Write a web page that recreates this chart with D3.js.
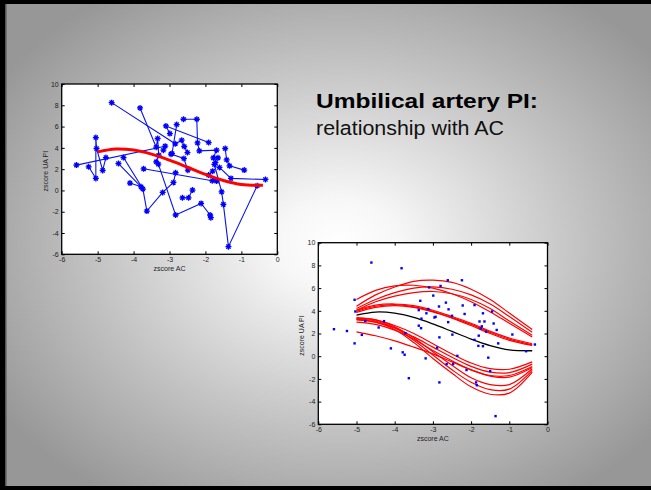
<!DOCTYPE html>
<html><head><meta charset="utf-8">
<script src="https://cdn.jsdelivr.net/npm/d3@7"></script>
<style>html,body{margin:0;padding:0;background:#999;}svg{display:block;}</style>
</head><body>
<svg id="c" width="651" height="490"></svg>
<script>
// ---------- data ----------
const xTickVals = [-6, -5, -4, -3, -2, -1, 0];
const yTickVals = [-6, -4, -2, 0, 2, 4, 6, 8, 10];
const titleText = "Umbilical artery PI:";
const subtitleText = "relationship with AC";
const xLabel = "zscore AC";
const yLabel = "zscore UA PI";

// longitudinal measurements per fetus: [zscore AC, zscore UA PI]
const subj01 = [[-5.59,2.38],[-3.12,4.16],[-3.17,3.78]];
const subj02 = [[-4.61,8.25],[-2.84,4.38],[-2.66,4.72],[-2.59,4.13],[-2.50,3.56]];
const subj03 = [[-3.82,7.75],[-3.37,4.06],[-3.33,4.88],[-3.30,3.31],[-3.37,2.69]];
const subj04 = [[-2.99,5.34],[-3.10,6.06],[-1.91,4.50]];
const subj05 = [[-2.61,6.69],[-2.24,6.69],[-2.22,4.47],[-2.17,3.72],[-1.69,3.78],[-1.78,3.06],[-1.65,3.06]];
const subj06 = [[-5.25,2.22],[-5.05,1.13],[-5.05,4.97],[-5.03,3.94],[-4.86,1.88],[-4.77,3.09]];
const subj07 = [[-4.42,2.53],[-3.79,0.34],[-4.10,0.69]];
const subj08 = [[-4.28,3.09],[-3.74,0.13],[-3.63,-1.94],[-3.19,-0.19],[-2.89,0.75],[-2.83,1.66]];
const subj09 = [[-3.31,2.47],[-2.83,-2.31],[-2.12,-1.22],[-1.87,-2.31],[-1.85,-2.56]];
const subj10 = [[-2.64,-0.69],[-2.47,-0.69],[-2.36,0.03]];
const subj11 = [[-3.72,2.03],[-1.81,0.91],[-1.69,0.88],[-1.91,1.44],[-1.80,1.81]];
const subj12 = [[-0.56,0.44],[-1.36,-5.28],[-1.50,-1.31],[-1.55,-0.13],[-1.75,2.44],[-1.72,2.63]];
const subj13 = [[-1.45,3.94],[-1.41,2.88],[-1.33,2.31],[-0.92,1.91]];
const subj14 = [[-1.61,2.16],[-1.29,1.13],[-0.33,1.03]];
const subj15 = [[-2.80,6.19],[-2.93,3.47],[-2.96,3.41],[-2.60,3.00],[-2.49,1.90]];
const subjects = [subj01,subj02,subj03,subj04,subj05,subj06,subj07,subj08,subj09,subj10,subj11,subj12,subj13,subj14,subj15];

// fitted curves sampled at these AC z-scores
const fitX = [-5, -4.5, -4, -3.5, -3, -2.5, -2, -1.5, -1, -0.4];
const meanFit = [3.62, 3.89, 3.79, 3.41, 2.84, 2.18, 1.51, 0.94, 0.56, 0.48];
const fitU1 = [5.0, 5.8, 6.2, 6.25, 6.0, 5.5, 4.8, 3.9, 2.9, 1.7];
const fitU2 = [4.4, 5.4, 6.1, 6.6, 6.7, 6.5, 5.9, 5.0, 3.8, 2.35];
const fitU3 = [4.2, 5.0, 5.6, 6.0, 6.1, 5.9, 5.4, 4.6, 3.5, 2.1];
const fitU4 = [4.05, 4.8, 5.3, 5.6, 5.7, 5.5, 5.0, 4.2, 3.1, 1.85];
const fitM1 = [4.05, 4.5, 4.6, 4.45, 4.05, 3.5, 2.9, 2.2, 1.6, 1.1];
const fitM2 = [3.95, 4.4, 4.55, 4.35, 3.95, 3.4, 2.8, 2.1, 1.5, 1.0];
const fitM3 = [3.85, 4.3, 4.45, 4.3, 3.9, 3.35, 2.7, 2.0, 1.4, 0.95];
const fitA1 = [3.4, 3.2, 2.7, 2.0, 1.1, 0.2, -0.6, -1.1, -1.15, -0.5];
const fitA2 = [3.2, 3.0, 2.5, 1.7, 0.8, -0.1, -0.9, -1.4, -1.45, -0.7];
const fitA3 = [3.0, 2.8, 2.3, 1.5, 0.5, -0.4, -1.2, -1.7, -1.7, -0.9];
const fitA4 = [2.15, 1.8, 1.35, 0.8, 0.2, -0.5, -1.2, -1.75, -1.85, -1.0];
const fitB1 = [3.35, 3.2, 2.6, 1.6, 0.4, -0.8, -1.9, -2.5, -2.5, -1.1];
const fitB2 = [3.3, 3.1, 2.5, 1.4, 0.1, -1.2, -2.3, -2.95, -2.9, -1.25];
const fitB3 = [3.25, 3.0, 2.35, 1.2, -0.2, -1.5, -2.7, -3.35, -3.25, -1.4];
const subjectFits = [fitU1,fitU2,fitU3,fitU4,fitM1,fitM2,fitM3,fitA1,fitA2,fitA3,fitA4,fitB1,fitB2,fitB3];

// ---------- drawing ----------
const svg = d3.select("#c");
const FONT = "'Liberation Sans', Arial, Helvetica, sans-serif";

// background
const defs = svg.append("defs");
const rg = defs.append("radialGradient").attr("id","bg")
  .attr("cx",0.52).attr("cy",0.5).attr("r",0.62).attr("fx",0.52).attr("fy",0.5);
[[0,"#ffffff"],[0.15,"#f7f7f7"],[0.6,"#c3c3c3"],[1,"#979797"]].forEach(s=>
  rg.append("stop").attr("offset",s[0]).attr("stop-color",s[1]));
svg.append("rect").attr("width",651).attr("height",490).attr("fill","url(#bg)");
// slide frame
svg.append("rect").attr("x",0).attr("y",0).attr("width",651).attr("height",4).attr("fill","#000");
svg.append("rect").attr("x",0).attr("y",0).attr("width",5).attr("height",490).attr("fill","#000");
svg.append("rect").attr("x",5).attr("y",4).attr("width",1.5).attr("height",482).attr("fill","#555");
svg.append("rect").attr("x",0).attr("y",486).attr("width",651).attr("height",4).attr("fill","#000");

// title
svg.append("text").attr("x",316).attr("y",108).attr("font-family",FONT)
  .attr("font-weight","bold").attr("font-size",21).attr("fill","#000")
  .attr("textLength",222).attr("lengthAdjust","spacingAndGlyphs").text(titleText);
svg.append("text").attr("x",316).attr("y",135).attr("font-family",FONT)
  .attr("font-size",20.5).attr("fill","#111")
  .attr("textLength",188).attr("lengthAdjust","spacingAndGlyphs").text(subtitleText);

function makePlot(box, ylabX){
  const g = svg.append("g");
  const x = d3.scaleLinear().domain([-6,0]).range([box.x0, box.x1]);
  const y = d3.scaleLinear().domain([-6,10]).range([box.y0, box.y1]);
  g.append("rect").attr("x",box.x0).attr("y",box.y1)
    .attr("width",box.x1-box.x0).attr("height",box.y0-box.y1).attr("fill","#fff");
  const style = a => {
    a.selectAll("text").attr("font-family",FONT).attr("font-size",7).attr("fill","#222");
    a.selectAll("line").attr("stroke","#000");
    a.select(".domain").remove();
  };
  g.append("g").attr("transform",`translate(0,${box.y0})`)
    .call(d3.axisBottom(x).tickValues(xTickVals).tickSize(-3).tickSizeOuter(0).tickPadding(3).tickFormat(d3.format("d"))).call(style);
  g.append("g").attr("transform",`translate(0,${box.y1})`)
    .call(d3.axisTop(x).tickValues(xTickVals).tickSize(-3).tickSizeOuter(0).tickFormat("")).call(style);
  g.append("g").attr("transform",`translate(${box.x0},0)`)
    .call(d3.axisLeft(y).tickValues(yTickVals).tickSize(-3).tickSizeOuter(0).tickPadding(3).tickFormat(d3.format("d"))).call(style);
  g.append("g").attr("transform",`translate(${box.x1},0)`)
    .call(d3.axisRight(y).tickValues(yTickVals).tickSize(-3).tickSizeOuter(0).tickFormat("")).call(style);
  g.selectAll("text").text(function(){ return this.textContent.replace("−","-"); });
  // labels
  svg.append("text").attr("x",(box.x0+box.x1)/2).attr("y",box.y0+16.5)
    .attr("text-anchor","middle").attr("font-family",FONT).attr("font-size",7).attr("fill","#222").text(xLabel);
  svg.append("text").attr("transform",`translate(${ylabX},${(box.y0+box.y1)/2+2}) rotate(-90)`)
    .attr("text-anchor","middle").attr("font-family",FONT).attr("font-size",7).attr("fill","#222").text(yLabel);
  const frame = svg.append("rect").attr("x",box.x0).attr("y",box.y1)
    .attr("width",box.x1-box.x0).attr("height",box.y0-box.y1)
    .attr("fill","none").attr("stroke","#000").attr("stroke-width",1.3);
  return {g, x, y, frame};
}

// ---- left plot: spaghetti
const L = makePlot({x0:61.7, x1:277.3, y0:254.3, y1:84}, 47.5);
const lineL = d3.line().x(d=>L.x(d[0])).y(d=>L.y(d[1]));
L.g.selectAll(".subj").data(subjects).join("path").attr("class","subj")
  .attr("d",lineL).attr("fill","none").attr("stroke","#0a14f0").attr("stroke-width",1.1);
const allPts = subjects.flat();
const star = "M-3,0H3M0,-3V3M-2.1,-2.1L2.1,2.1M-2.1,2.1L2.1,-2.1";
L.g.selectAll(".mk").data(allPts).join("path").attr("class","mk")
  .attr("transform",d=>`translate(${L.x(d[0])},${L.y(d[1])})`)
  .attr("d",star).attr("fill","none").attr("stroke","#0000ff").attr("stroke-width",1.3);
const meanPts = fitX.map((v,i)=>[v, meanFit[i]]);
L.g.append("path").datum(meanPts)
  .attr("d", d3.line().x(d=>L.x(d[0])).y(d=>L.y(d[1])).curve(d3.curveCatmullRom))
  .attr("fill","none").attr("stroke","#ff0000").attr("stroke-width",3);
L.frame.raise();

// ---- right plot: fitted subject curves
const R = makePlot({x0:318.3, x1:547.5, y0:424.3, y1:242.7}, 303.5);
const lineR = d3.line().x(d=>R.x(d[0])).y(d=>R.y(d[1])).curve(d3.curveCatmullRom);
R.g.selectAll(".fit").data(subjectFits.map(f=>fitX.map((v,i)=>[v,f[i]])))
  .join("path").attr("class","fit").attr("d",lineR)
  .attr("fill","none").attr("stroke","#ff0000").attr("stroke-width",1.2);
R.g.append("path").datum(meanPts).attr("d",lineR)
  .attr("fill","none").attr("stroke","#000").attr("stroke-width",1.3);
R.g.selectAll(".dot").data(allPts).join("rect").attr("class","dot")
  .attr("x",d=>R.x(d[0])-1.2).attr("y",d=>R.y(d[1])-1.2)
  .attr("width",2.4).attr("height",2.4).attr("fill","#0000ff");
R.frame.raise();
</script>
</body></html>
